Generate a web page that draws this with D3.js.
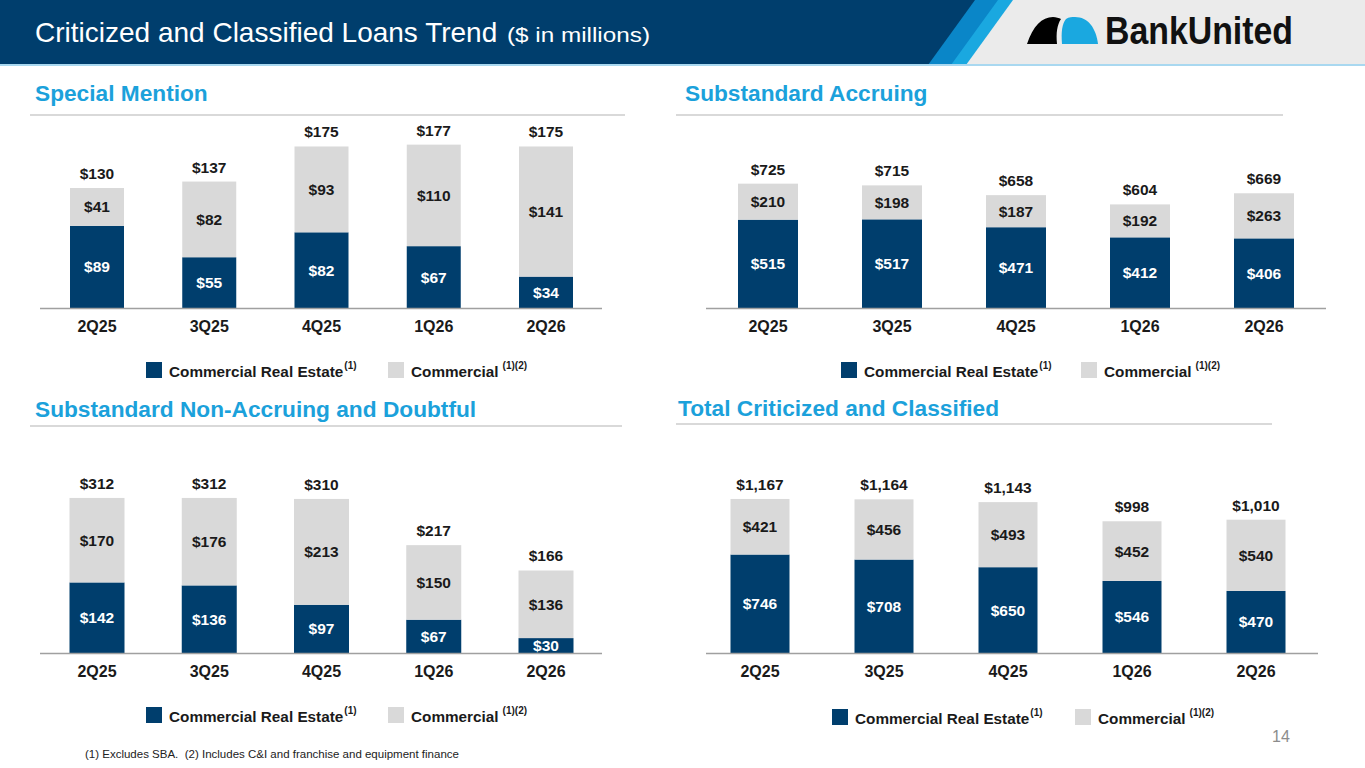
<!DOCTYPE html>
<html>
<head>
<meta charset="utf-8">
<script src="https://cdn.jsdelivr.net/npm/d3@7"></script>
<style>
  html, body { margin: 0; padding: 0; background: #fff; }
  svg { display: block; font-family: "Liberation Sans", Arial, sans-serif; }
  .value { font-weight: bold; font-size: 15.5px; text-anchor: middle; }
  .cat { font-weight: bold; font-size: 16px; fill: #1a1a1a; text-anchor: middle; }
  .heading { font-weight: bold; font-size: 22.7px; fill: #1ba1db; }
  .legend { font-weight: bold; font-size: 15.3px; fill: #1a1a1a; }
  .sup { font-weight: bold; font-size: 10px; fill: #1a1a1a; }
</style>
</head>
<body>
<div id="wrapper"></div>
<script>
// data
const quarters = ["2Q25", "3Q25", "4Q25", "1Q26", "2Q26"];

const smCRE = [89, 55, 82, 67, 34];
const smCommercial = [41, 82, 93, 110, 141];
const smTotal = [130, 137, 175, 177, 175];

const saCRE = [515, 517, 471, 412, 406];
const saCommercial = [210, 198, 187, 192, 263];
const saTotal = [725, 715, 658, 604, 669];

const naCRE = [142, 136, 97, 67, 30];
const naCommercial = [170, 176, 213, 150, 136];
const naTotal = [312, 312, 310, 217, 166];

const totCRE = [746, 708, 650, 546, 470];
const totCommercial = [421, 456, 493, 452, 540];
const totTotal = [1167, 1164, 1143, 998, 1010];

const seriesNames = ["Commercial Real Estate", "Commercial"];

const navy = "#003e6d";
const lightGray = "#d9d9d9";
const fmt = d3.format(",");

const width = 1365;
const height = 768;

const svg = d3
  .select("#wrapper")
  .append("svg")
  .attr("width", width)
  .attr("height", height);

// header
svg.append("rect").attr("width", width).attr("height", 65).attr("fill", "#ebebeb");
svg.append("path").attr("d", "M0,0 L1013,0 L966,65 L0,65 Z").attr("fill", "#1aa8e0");
svg.append("path").attr("d", "M0,0 L998,0 L951,65 L0,65 Z").attr("fill", "#0a86c8");
svg.append("path").attr("d", "M0,0 L975,0 L928,65 L0,65 Z").attr("fill", "#003e6d");
svg.append("rect").attr("y", 64).attr("width", width).attr("height", 2).attr("fill", "#a9d8f0");

svg
  .append("text")
  .attr("x", 35)
  .attr("y", 42)
  .attr("fill", "#fff")
  .style("font-size", "28px")
  .text("Criticized and Classified Loans Trend");

svg
  .append("text")
  .attr("x", 507)
  .attr("y", 42)
  .attr("fill", "#fff")
  .attr("textLength", 143)
  .attr("lengthAdjust", "spacingAndGlyphs")
  .style("font-size", "21px")
  .text("($ in millions)");

// logo
svg
  .append("path")
  .attr("d", "M1027,44 C1033,26 1042,17 1053,17 C1056,17 1059,18 1061,19 C1057,25 1056,33 1057,44 Z")
  .attr("fill", "#000");
svg
  .append("path")
  .attr("d", "M1062,44 C1061,32 1062,24 1066,19 C1069,17 1072,17 1075,17 C1088,17 1096,28 1098,44 Z")
  .attr("fill", "#1aa8e0");
svg
  .append("text")
  .attr("x", 1105)
  .attr("y", 44)
  .attr("textLength", 188)
  .attr("lengthAdjust", "spacingAndGlyphs")
  .style("font-size", "38px")
  .style("font-weight", "bold")
  .attr("fill", "#111")
  .text("BankUnited");

// panels
const panels = [
  {
    title: "Special Mention", titleX: 35, titleY: 101, ruleY: 115, ruleX: [30, 625],
    cre: smCRE, com: smCommercial, total: smTotal,
    perUnit: 0.923, baseline: 308, centers: [97, 546], barW: 54, axisX: [40, 602],
    catY: 332, legendY: 362, legendX: [146, 388],
  },
  {
    title: "Substandard Accruing", titleX: 685, titleY: 101, ruleY: 115, ruleX: [676, 1283],
    cre: saCRE, com: saCommercial, total: saTotal,
    perUnit: 0.1715, baseline: 308, centers: [768, 1264], barW: 60, axisX: [706, 1326],
    catY: 332, legendY: 362, legendX: [841, 1081],
  },
  {
    title: "Substandard Non-Accruing and Doubtful", titleX: 35, titleY: 417, ruleY: 426, ruleX: [30, 622],
    cre: naCRE, com: naCommercial, total: naTotal,
    perUnit: 0.497, baseline: 653, centers: [97, 546], barW: 55, axisX: [40, 602],
    catY: 677, legendY: 707, legendX: [146, 388],
  },
  {
    title: "Total Criticized and Classified", titleX: 678, titleY: 416, ruleY: 424, ruleX: [676, 1272],
    cre: totCRE, com: totCommercial, total: totTotal,
    perUnit: 0.132, baseline: 653, centers: [760, 1256], barW: 59, axisX: [706, 1318],
    catY: 677, legendY: 709, legendX: [832, 1075],
  },
];

panels.forEach((p) => {
  const g = svg.append("g");

  g.append("text")
    .attr("class", "heading")
    .attr("x", p.titleX)
    .attr("y", p.titleY)
    .text(p.title);

  g.append("line")
    .attr("x1", p.ruleX[0])
    .attr("x2", p.ruleX[1])
    .attr("y1", p.ruleY)
    .attr("y2", p.ruleY)
    .attr("stroke", "#d9d9d9")
    .attr("stroke-width", 2);

  const table = quarters.map((q, i) => ({ quarter: q, cre: p.cre[i], com: p.com[i], total: p.total[i] }));
  const stacked = d3.stack().keys(["cre", "com"])(table);

  const x = d3.scalePoint().domain(quarters).range(p.centers);
  const plotH = 200;
  const y = d3
    .scaleLinear()
    .domain([0, plotH / p.perUnit])
    .range([p.baseline, p.baseline - plotH]);

  const colors = { cre: navy, com: lightGray };
  const textColors = { cre: "#fff", com: "#1a1a1a" };

  const layers = g
    .selectAll(".layer")
    .data(stacked)
    .join("g")
    .attr("class", "layer");

  layers
    .selectAll("rect")
    .data((s) => s.map((d) => ({ key: s.key, d })))
    .join("rect")
    .attr("x", (o) => x(o.d.data.quarter) - p.barW / 2)
    .attr("width", p.barW)
    .attr("y", (o) => y(o.d[1]))
    .attr("height", (o) => y(o.d[0]) - y(o.d[1]))
    .attr("fill", (o) => colors[o.key]);

  layers
    .selectAll("text")
    .data((s) => s.map((d) => ({ key: s.key, d })))
    .join("text")
    .attr("class", "value")
    .attr("x", (o) => x(o.d.data.quarter))
    .attr("y", (o) => (y(o.d[0]) + y(o.d[1])) / 2 + 5.5)
    .attr("fill", (o) => textColors[o.key])
    .text((o) => `$${fmt(o.d[1] - o.d[0])}`);

  g.selectAll(".total")
    .data(table)
    .join("text")
    .attr("class", "value total")
    .attr("x", (d) => x(d.quarter))
    .attr("y", (d) => y(d.total) - 9)
    .attr("fill", "#1a1a1a")
    .text((d) => `$${fmt(d.total)}`);

  g.append("line")
    .attr("x1", p.axisX[0])
    .attr("x2", p.axisX[1])
    .attr("y1", p.baseline + 0.5)
    .attr("y2", p.baseline + 0.5)
    .attr("stroke", "#a0a0a0")
    .attr("stroke-width", 1.5);

  g.selectAll(".cat")
    .data(quarters)
    .join("text")
    .attr("class", "cat")
    .attr("x", (d) => x(d))
    .attr("y", p.catY)
    .text((d) => d);

  // legend
  const legendColors = [navy, lightGray];
  const sups = ["(1)", "(1)(2)"];
  seriesNames.forEach((name, i) => {
    const lx = p.legendX[i];
    g.append("rect")
      .attr("x", lx)
      .attr("y", p.legendY)
      .attr("width", 16)
      .attr("height", 16)
      .attr("fill", legendColors[i]);
    const t = g
      .append("text")
      .attr("class", "legend")
      .attr("x", lx + 23)
      .attr("y", p.legendY + 15)
      .text(name);
    const tw = t.node().getComputedTextLength();
    g.append("text")
      .attr("class", "sup")
      .attr("x", lx + 23 + tw + (i === 0 ? 1 : 4))
      .attr("y", p.legendY + 7)
      .text(sups[i]);
  });
});

// footnote and page number
svg
  .append("text")
  .attr("x", 85)
  .attr("y", 758)
  .attr("fill", "#222")
  .style("font-size", "11.5px")
  .style("white-space", "pre")
  .text("(1) Excludes SBA.  (2) Includes C&I and franchise and equipment finance");

svg
  .append("text")
  .attr("x", 1272)
  .attr("y", 742)
  .attr("fill", "#8c8c8c")
  .style("font-size", "16px")
  .text("14");
</script>
</body>
</html>
